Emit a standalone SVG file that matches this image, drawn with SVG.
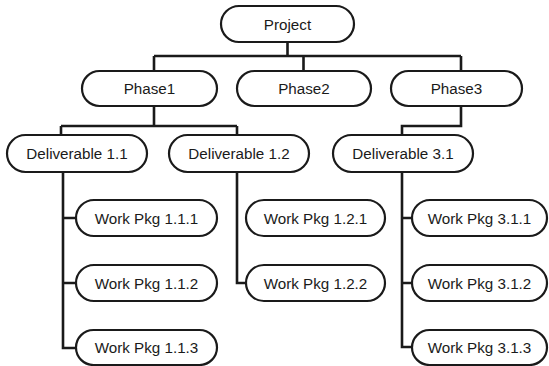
<svg xmlns="http://www.w3.org/2000/svg" width="549" height="366" viewBox="0 0 549 366">
<style>
.n rect{fill:#fff;stroke:#1a1a1a;stroke-width:2.2}
.n text{font-family:"Liberation Sans",Arial,sans-serif;font-size:15.2px;fill:#1a1a1a;text-anchor:middle}
.c path{fill:none;stroke:#1a1a1a;stroke-width:2.6}
</style>
<rect width="549" height="366" fill="#fff"/>
<g class="c" id="connectors">
<path d="M287.5 42V56M154 56H461M154 56V71M303.5 56V71M461 56V71"/>
<path d="M154 106V126M61 126H237M61 126V135M237 126V135"/>
<path d="M461 106V126H402V135"/>
<path d="M63 172V348H76M63 218H76M63 283H76"/>
<path d="M237 172V283H246"/>
<path d="M402 172V347H412M402 218H412M402 283H412"/>
</g>
<g class="n" id="project"><rect x="221" y="6" width="133" height="36" rx="18"/><text x="287.5" y="29.5">Project</text></g>
<g class="n" id="phase1"><rect x="82" y="71" width="135" height="35" rx="17.5"/><text x="149.5" y="94">Phase1</text></g>
<g class="n" id="phase2"><rect x="237" y="71" width="134" height="35" rx="17.5"/><text x="304" y="94">Phase2</text></g>
<g class="n" id="phase3"><rect x="391" y="71" width="131" height="35" rx="17.5"/><text x="456.5" y="94">Phase3</text></g>
<g class="n" id="d11"><rect x="7" y="135" width="140" height="37" rx="18.5"/><text x="77" y="159">Deliverable 1.1</text></g>
<g class="n" id="d12"><rect x="169" y="135" width="140" height="37" rx="18.5"/><text x="239" y="159">Deliverable 1.2</text></g>
<g class="n" id="d31"><rect x="333" y="135" width="140" height="37" rx="18.5"/><text x="403" y="159">Deliverable 3.1</text></g>
<g class="n" id="w111"><rect x="76" y="200" width="141" height="36" rx="18"/><text x="146.5" y="223.5">Work Pkg 1.1.1</text></g>
<g class="n" id="w112"><rect x="76" y="265" width="141" height="36" rx="18"/><text x="146.5" y="288.5">Work Pkg 1.1.2</text></g>
<g class="n" id="w113"><rect x="76" y="330" width="141" height="35" rx="17.5"/><text x="146.5" y="353">Work Pkg 1.1.3</text></g>
<g class="n" id="w121"><rect x="246" y="200" width="139" height="36" rx="18"/><text x="315.5" y="223.5">Work Pkg 1.2.1</text></g>
<g class="n" id="w122"><rect x="246" y="265" width="139" height="36" rx="18"/><text x="315.5" y="288.5">Work Pkg 1.2.2</text></g>
<g class="n" id="w311"><rect x="412" y="200" width="135" height="36" rx="18"/><text x="479.5" y="223.5">Work Pkg 3.1.1</text></g>
<g class="n" id="w312"><rect x="412" y="265" width="135" height="36" rx="18"/><text x="479.5" y="288.5">Work Pkg 3.1.2</text></g>
<g class="n" id="w313"><rect x="412" y="330" width="135" height="35" rx="17.5"/><text x="479.5" y="353">Work Pkg 3.1.3</text></g>
</svg>
